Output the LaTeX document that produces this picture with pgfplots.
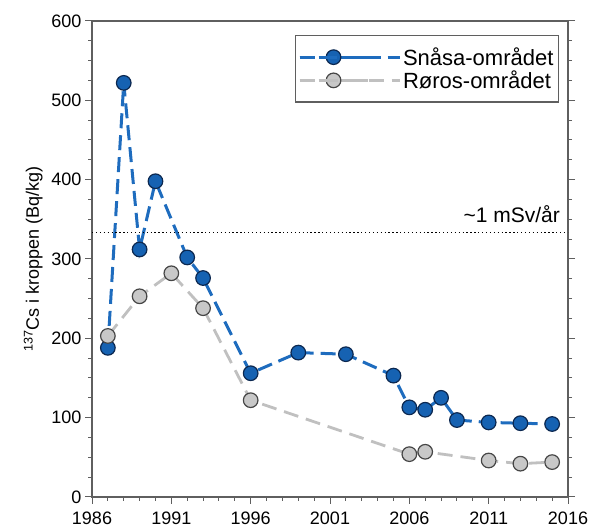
\documentclass[border=0pt]{standalone}
\usepackage{fontspec}
\setmainfont{Liberation Sans}
\usepackage{pgfplots}
\pgfplotsset{compat=1.18}
\definecolor{snblue}{RGB}{22,98,178}
\definecolor{snline}{RGB}{30,108,190}
\definecolor{snedge}{RGB}{12,40,80}
\definecolor{rogray}{RGB}{200,200,200}
\definecolor{roline}{RGB}{192,192,192}
\definecolor{roedge}{RGB}{70,70,70}
\definecolor{axgray}{RGB}{95,95,95}
\begin{document}
\begin{tikzpicture}
\begin{axis}[
  scale only axis,
  width=476bp, height=476bp,
  xmin=1986, xmax=2016, ymin=0, ymax=600,
  xtick={1986,1991,...,2016},
  ytick={0,100,...,600},
  minor x tick num=4,
  minor y tick num=3,
  xtick pos=left, ytick pos=both,
  tick align=outside,
  major tick length=7bp, minor tick length=4bp,
  axis line style={axgray, line width=1.1bp},
  every tick/.style={axgray, line width=1bp},
  /pgf/number format/assume math mode=true,
  xticklabel style={/pgf/number format/1000 sep=, yshift=-4bp},
  ticklabel style={font=\fontsize{18bp}{21bp}\selectfont},
  ylabel={\textsuperscript{137}Cs i kroppen (Bq/kg)},
  ylabel style={font=\fontsize{18bp}{21bp}\selectfont, yshift=2bp},
  legend style={at={(1,1)}, anchor=north east, xshift=-9bp, yshift=-14bp,
    draw=axgray, line width=1.1bp, font=\fontsize{22bp}{26bp}\selectfont,
    cells={anchor=west}, inner xsep=3bp, inner ysep=10bp, row sep=0bp},
  legend image code/.code={
    \draw[#1, dash pattern=on 13bp off 6bp, dash phase=0bp] (0bp,0bp) -- (68bp,0bp);
    \path[#1] plot[mark=*] coordinates {(34bp,0bp)};
    \path (0bp,0bp) -- (100bp,0bp);
  },
]
\addplot[snline, line width=3bp, dash pattern=on 15bp off 7bp, mark=*, mark size=7.3bp,
  mark options={solid, fill=snblue, draw=snedge, line width=1.2bp}] coordinates {
  (1987,188) (1988,522) (1989,312) (1990,398) (1992,302) (1993,276) (1996,156)
  (1999,182) (2002,180) (2005,153) (2006,113) (2007,110) (2008,125) (2009,97)
  (2011,94) (2013,93) (2015,92)};
\addlegendentry{Snåsa-området}
\addplot[roline, line width=2.8bp, dash pattern=on 15bp off 8bp, mark=*, mark size=7.3bp,
  mark options={solid, fill=rogray, draw=roedge, line width=1.2bp}] coordinates {
  (1987,203) (1989,253) (1991,282) (1993,238) (1996,122) (2006,54) (2007,57)
  (2011,46) (2013,42) (2015,44)};
\addlegendentry{Røros-området}
\addplot[black, line width=1.3bp, dash pattern=on 1.3bp off 2.6bp, forget plot] coordinates {(1986,333) (2016,333)};
\node[anchor=base east, inner sep=0pt, font=\fontsize{21bp}{25bp}\selectfont] at (axis cs:2015.5,346) {\textasciitilde1 mSv/år};
\coordinate (bl) at (rel axis cs:0,0);
\coordinate (tr) at (rel axis cs:1,1);
\end{axis}
\pgfresetboundingbox
\path ([shift={(-92bp,-34bp)}]bl) rectangle ([shift={(22bp,21bp)}]tr);
\end{tikzpicture}
\end{document}
